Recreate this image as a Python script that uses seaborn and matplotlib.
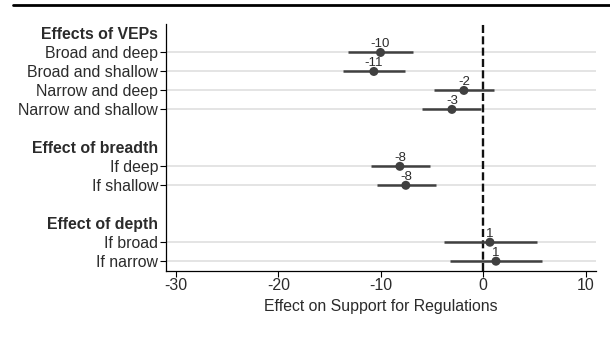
import numpy as np
import pandas as pd
import matplotlib
matplotlib.use("Agg")
import matplotlib.pyplot as plt
import seaborn as sns

# rows top to bottom (None = blank spacer)
row_labels = [
    "Effects of VEPs", "Broad and deep", "Broad and shallow", "Narrow and deep", "Narrow and shallow",
    None,
    "Effect of breadth", "If deep", "If shallow",
    None,
    "Effect of depth", "If broad", "If narrow",
]
headers = ["Effects of VEPs", "Effect of breadth", "Effect of depth"]

items = ["Broad and deep", "Broad and shallow", "Narrow and deep", "Narrow and shallow",
         "If deep", "If shallow", "If broad", "If narrow"]
estimate = [-10.03, -10.68, -1.89, -3.06, -8.14, -7.56, 0.65, 1.24]
ci_low = [-13.2, -13.69, -4.82, -5.99, -10.98, -10.39, -3.84, -3.26]
ci_high = [-6.9, -7.65, 1.05, -0.22, -5.21, -4.62, 5.22, 5.74]

x_ticks = [-30, -20, -10, 0, 10]

sns.set_theme(style="white")
plt.rcParams["font.family"] = ["Liberation Sans", "DejaVu Sans"]

TXT = "#2b2b2b"
DOT = "#404040"
FS = 11.4

pos = {lab: i for i, lab in enumerate(row_labels) if lab is not None}
df = pd.DataFrame({"item": items, "est": estimate, "lo": ci_low, "hi": ci_high})
df["y"] = df["item"].map(pos)

fig = plt.figure(figsize=(6.1, 3.45), dpi=100)
ax = fig.add_axes([0.2716, 0.2154, 0.7054, 0.715])

# top rule
fig.add_artist(plt.Line2D([0.022, 1.0], [0.985, 0.985], color="black", lw=2.0,
                          transform=fig.transFigure))

ax.set_xlim(-31, 11)
ax.set_ylim(len(row_labels) - 0.5, -0.5)

# gridlines for item rows
for y in df["y"]:
    ax.axhline(y, color="#e2e2e2", lw=1.3, zorder=0)

ax.axvline(0, color="#111111", lw=1.7, ls=(0, (3.4, 1.4)), zorder=1)

ax.hlines(df["y"], df["lo"], df["hi"], color=DOT, lw=1.8, zorder=2)
sns.scatterplot(data=df, x="est", y="y", color=DOT, s=42, edgecolor="none",
                ax=ax, zorder=3, legend=False)

for _, r in df.iterrows():
    ax.text(r["est"], r["y"] - 0.3, f"{int(np.round(r['est']))}", ha="center", va="baseline",
            fontsize=9.5, color=TXT, zorder=4)

ax.set_yticks(df["y"])
ax.set_yticklabels(df["item"], fontsize=FS, color=TXT)
ax.set_yticks([pos[h] for h in headers], minor=True)
ax.set_yticklabels(headers, minor=True, fontsize=FS, color=TXT, fontweight="bold")
ax.set_xticks(x_ticks)
ax.set_xticklabels([str(t) for t in x_ticks], fontsize=FS, color=TXT)

ax.tick_params(axis="both", which="major", length=4.3, width=0.8, color="black",
               left=True, bottom=True, pad=1)
ax.tick_params(axis="y", which="minor", length=0, left=True, pad=5.3)
ax.set_xlabel("Effect on Support for Regulations", fontsize=FS, color=TXT, labelpad=4)
ax.set_ylabel("")

sns.despine(ax=ax, top=True, right=True)
for s in ["left", "bottom"]:
    ax.spines[s].set_color("black")
    ax.spines[s].set_linewidth(0.9)

fig.savefig("out.png", dpi=100)
